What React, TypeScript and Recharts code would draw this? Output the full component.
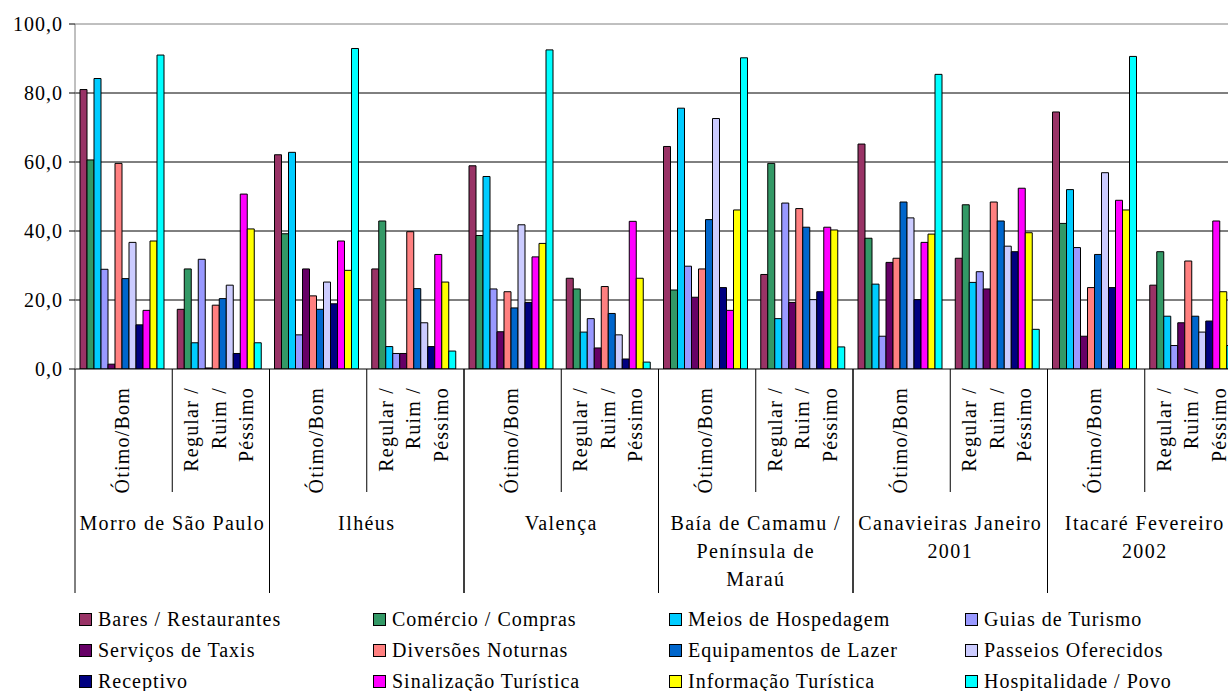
import React from "react";
import {
  Bar,
  BarChart,
  CartesianGrid,
  Legend,
  ReferenceLine,
  XAxis,
  YAxis,
} from "recharts";

const places = [
  ["Morro de São Paulo"],
  ["Ilhéus"],
  ["Valença"],
  ["Baía de Camamu /", "Península de", "Maraú"],
  ["Canavieiras Janeiro", "2001"],
  ["Itacaré Fevereiro", "2002"],
];
const ratings = [["Ótimo/Bom"], ["Regular /", "Ruim /", "Péssimo"]];

const seriesNames = [
  "Bares / Restaurantes",
  "Comércio / Compras",
  "Meios de Hospedagem",
  "Guias de Turismo",
  "Serviços de Taxis",
  "Diversões Noturnas",
  "Equipamentos de Lazer",
  "Passeios Oferecidos",
  "Receptivo",
  "Sinalização Turística",
  "Informação Turística",
  "Hospitalidade / Povo",
];
const seriesColors = [
  "#993366",
  "#339966",
  "#00CCFF",
  "#9999FF",
  "#660066",
  "#FF8080",
  "#0066CC",
  "#CCCCFF",
  "#000080",
  "#FF00FF",
  "#FFFF00",
  "#00FFFF",
];

// one value per category: place x rating (Ótimo/Bom, Regular/Ruim/Péssimo)
const bares = [81.0, 17.3, 62.1, 29.0, 58.9, 26.3, 64.5, 27.4, 65.2, 32.1, 74.5, 24.3];
const comercio = [60.6, 29.0, 39.2, 42.9, 38.7, 23.2, 22.9, 59.6, 37.9, 47.6, 42.2, 34.0];
const meios = [84.2, 7.6, 62.8, 6.5, 55.8, 10.7, 75.6, 14.6, 24.6, 25.1, 52.0, 15.3];
const guias = [28.9, 31.8, 9.9, 4.5, 23.2, 14.6, 29.8, 48.1, 9.5, 28.2, 35.2, 6.8];
const taxis = [1.4, 0.3, 29.0, 4.5, 10.8, 6.1, 20.8, 19.3, 30.9, 23.2, 9.5, 13.4];
const diversoes = [59.6, 18.5, 21.2, 39.8, 22.4, 23.9, 29.0, 46.5, 32.1, 48.4, 23.6, 31.3];
const lazer = [26.2, 20.4, 17.3, 23.3, 17.7, 16.1, 43.3, 41.1, 48.4, 42.9, 33.2, 15.3];
const passeios = [36.7, 24.3, 25.2, 13.4, 41.8, 9.9, 72.6, 20.1, 43.8, 35.6, 56.9, 10.7];
const receptivo = [12.8, 4.5, 18.9, 6.5, 19.3, 2.9, 23.6, 22.4, 20.1, 34.0, 23.6, 13.9];
const sinalizacao = [17.0, 50.7, 37.1, 33.2, 32.5, 42.8, 17.0, 41.1, 36.7, 52.4, 48.9, 42.9];
const informacao = [37.1, 40.6, 28.6, 25.2, 36.4, 26.3, 46.1, 40.3, 39.1, 39.5, 46.1, 22.4];
const hospitalidade = [91.0, 7.6, 92.9, 5.2, 92.5, 2.0, 90.2, 6.4, 85.4, 11.5, 90.6, 6.8];

const seriesValues = [
  bares,
  comercio,
  meios,
  guias,
  taxis,
  diversoes,
  lazer,
  passeios,
  receptivo,
  sinalizacao,
  informacao,
  hospitalidade,
];

const yTicks = [0, 20, 40, 60, 80, 100];

const data = bares.map((_, i) => {
  const row: Record<string, any> = { id: String(i) };
  seriesValues.forEach((vals, s) => {
    row["s" + s] = vals[i];
  });
  return row;
});

const FONT = "Liberation Serif";
const CAT_W = 97.25;

function CategoryTick(props: any) {
  const { x, y, payload } = props;
  const i = Number(payload.value);
  const lines = ratings[i % 2];
  const left = x - CAT_W / 2;
  const right = x + CAT_W / 2;
  const lh = 27.5;
  const start = x - ((lines.length - 1) * lh) / 2 - 2;
  return (
    <g>
      {lines.map((t, k) => (
        <text
          key={k}
          x={start + k * lh}
          y={y + 18}
          transform={`rotate(-90 ${start + k * lh} ${y + 18})`}
          textAnchor="end"
          dy="0.35em"
          fontSize={20}
          fontFamily={FONT}
          letterSpacing={1.2}
          fill="#000"
        >
          {t}
        </text>
      ))}
      {i % 2 === 0 ? (
        <>
          <line x1={left} y1={y} x2={left} y2={y + 224} stroke="#000" />
          <line x1={right} y1={y} x2={right} y2={y + 123} stroke="#000" />
        </>
      ) : (
        <>
          <line x1={right} y1={y} x2={right} y2={y + 224} stroke="#000" />
          {places[(i - 1) / 2].map((t, k) => (
            <text
              key={"p" + k}
              x={left}
              y={y + 154 + k * 28}
              dy="0.35em"
              textAnchor="middle"
              fontSize={20}
              fontFamily={FONT}
              letterSpacing={1.4}
              fill="#000"
            >
              {t}
            </text>
          ))}
        </>
      )}
    </g>
  );
}

const legendCols = [79, 373, 669, 965];
const legendRows = [25, 56, 87];

function LegendBox() {
  return (
    <div style={{ position: "relative", width: 1228, height: 97 }}>
      {seriesNames.map((name, s) => (
        <div
          key={name}
          style={{
            position: "absolute",
            left: legendCols[s % 4],
            top: legendRows[Math.floor(s / 4)] - 11,
            display: "flex",
            alignItems: "center",
            height: 22,
            lineHeight: "22px",
            fontFamily: FONT,
            fontSize: 20,
            letterSpacing: 1,
            color: "#000",
            whiteSpace: "nowrap",
          }}
        >
          <span
            style={{
              display: "inline-block",
              width: 11,
              height: 11,
              background: seriesColors[s],
              border: "1px solid #000",
              marginRight: 6,
            }}
          />
          {name}
        </div>
      ))}
    </div>
  );
}

export default function App() {
  return (
    <div
      style={{
        position: "absolute",
        left: 0,
        top: 0,
        width: 1228,
        height: 691,
        overflow: "hidden",
        background: "#fff",
        fontFamily: FONT,
      }}
    >
      <BarChart
        width={1242}
        height={691}
        data={data}
        margin={{ top: 24, right: 0, bottom: 0, left: 0 }}
        barCategoryGap={5}
        barGap={0}
      >
        <CartesianGrid
          vertical={false}
          horizontalValues={[20, 40, 60, 80]}
          stroke="#000"
          strokeDasharray=""
        />
        <ReferenceLine y={100} stroke="#808080" />
        <XAxis
          dataKey="id"
          interval={0}
          height={225}
          tickLine={false}
          tickSize={0}
          tickMargin={0}
          axisLine={{ stroke: "#000" }}
          tick={<CategoryTick />}
        />
        <YAxis
          width={75}
          domain={[0, 100]}
          ticks={yTicks}
          allowDataOverflow
          tickFormatter={(v: number) => v.toFixed(1).replace(".", ",")}
          tick={{ fill: "#000", fontSize: 20, fontFamily: FONT, letterSpacing: 1 }}
          tickSize={6}
          tickMargin={6}
          tickLine={{ stroke: "#000" }}
          axisLine={{ stroke: "#808080" }}
        />
        <Legend
          verticalAlign="bottom"
          height={97}
          content={() => <LegendBox />}
          wrapperStyle={{ left: 0, bottom: 0, width: 1228, height: 97 }}
        />
        {seriesNames.map((name, s) => (
          <Bar
            key={name}
            dataKey={"s" + s}
            name={name}
            fill={seriesColors[s]}
            stroke="#000"
            strokeWidth={1}
            isAnimationActive={false}
          />
        ))}
      </BarChart>
    </div>
  );
}
